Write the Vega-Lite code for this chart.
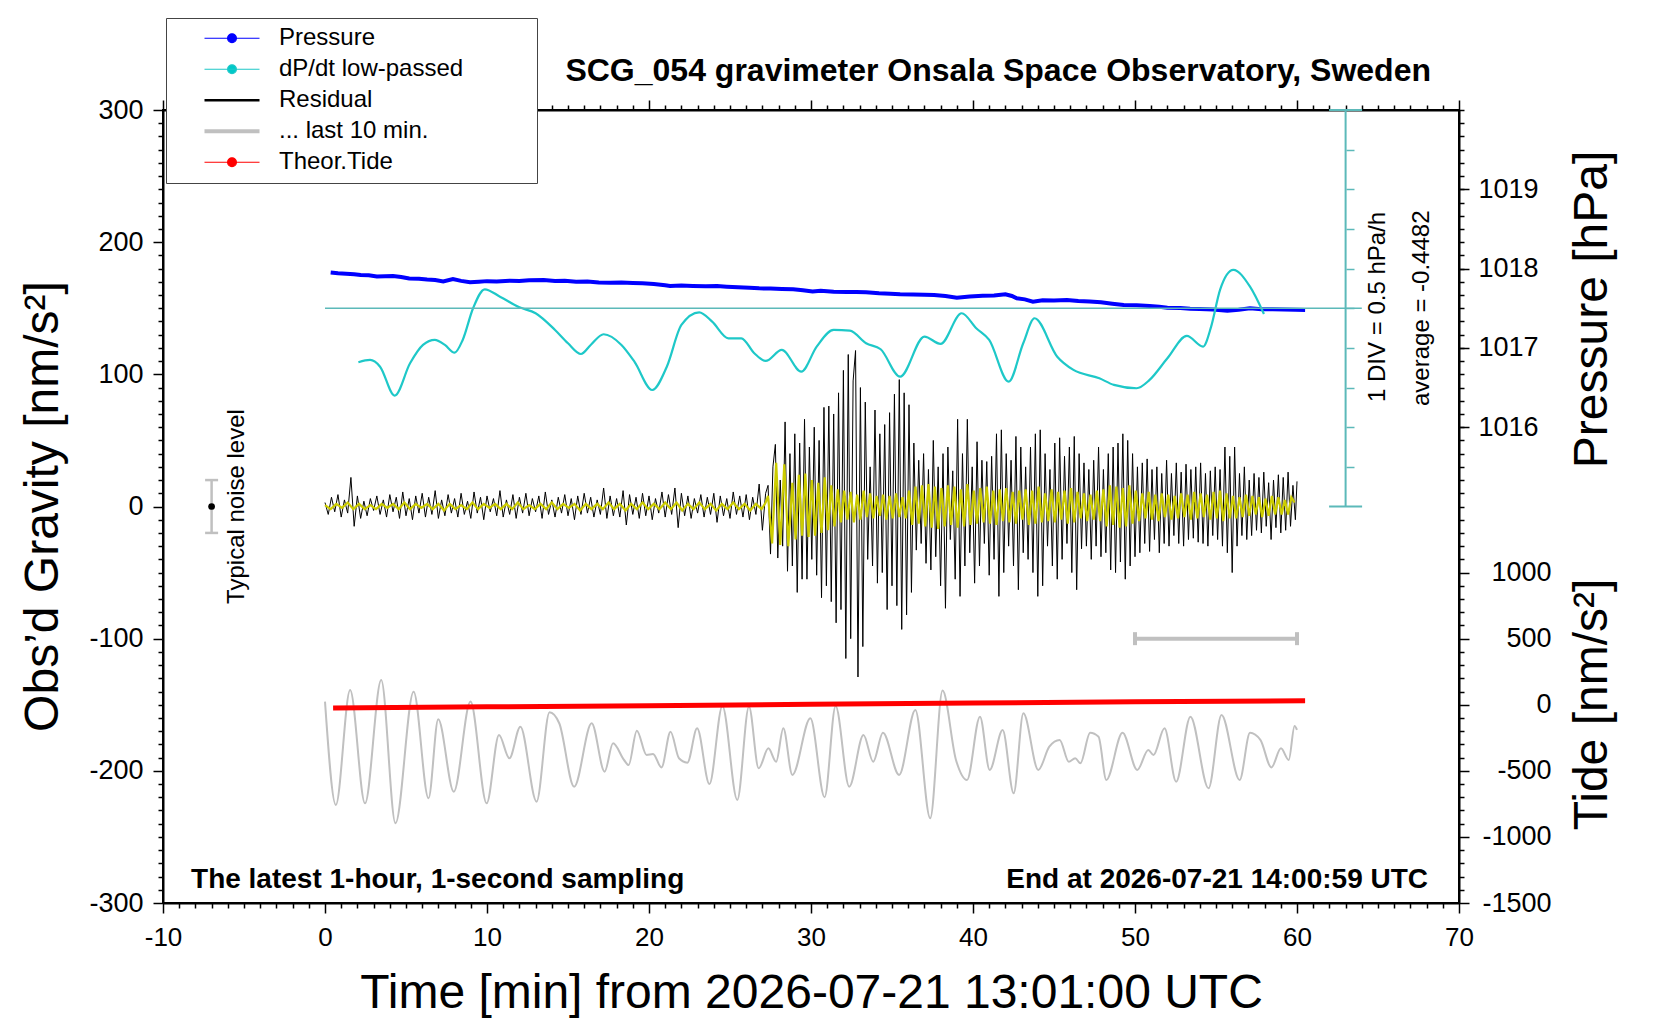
{
  "$schema": "https://vega.github.io/schema/vega-lite/v6.json",
  "width": 1296,
  "height": 793,
  "autosize": {"type": "none"},
  "padding": {"left": 163, "top": 110, "right": 201, "bottom": 117},
  "title": {
    "text": "SCG_054 gravimeter Onsala Space Observatory, Sweden",
    "anchor": "end",
    "frame": "group",
    "dx": -28,
    "offset": -95,
    "baseline": "alphabetic",
    "font": "Liberation Sans",
    "fontSize": 32,
    "fontWeight": "bold",
    "color": "black"
  },
  "config": {
    "font": "Liberation Sans",
    "view": {"stroke": "black", "strokeWidth": 2},
    "axis": {
      "grid": false,
      "domainColor": "black",
      "domainWidth": 2,
      "tickColor": "black",
      "tickWidth": 1.5,
      "labelColor": "black",
      "labelFont": "Liberation Sans",
      "labelFontSize": 27,
      "labelOverlap": false,
      "labelFlush": false,
      "labelBound": false,
      "titleColor": "black",
      "titleFont": "Liberation Sans",
      "titleFontSize": 48,
      "titleFontWeight": "normal"
    },
    "text": {"color": "black", "font": "Liberation Sans"}
  },
  "datasets": {
    "residual": [
      {"t":0.0,"g":3},{"t":0.2,"g":-6},{"t":0.4,"g":7},{"t":0.6,"g":-4},{"t":0.8,"g":9},{"t":1.0,"g":-8},{"t":1.2,"g":5},{"t":1.4,"g":-5},{"t":1.6,"g":22},{"t":1.8,"g":-15},
      {"t":2.0,"g":8},{"t":2.2,"g":-9},{"t":2.4,"g":4},{"t":2.6,"g":-7},{"t":2.8,"g":6},{"t":3.0,"g":-3},{"t":3.2,"g":8},{"t":3.4,"g":-6},{"t":3.6,"g":5},{"t":3.8,"g":-8},
      {"t":4.0,"g":9},{"t":4.2,"g":-4},{"t":4.4,"g":7},{"t":4.6,"g":-9},{"t":4.8,"g":11},{"t":5.0,"g":-7},{"t":5.2,"g":6},{"t":5.4,"g":-10},{"t":5.6,"g":8},{"t":5.8,"g":-5},
      {"t":6.0,"g":10},{"t":6.2,"g":-8},{"t":6.4,"g":7},{"t":6.6,"g":-6},{"t":6.8,"g":12},{"t":7.0,"g":-9},{"t":7.2,"g":5},{"t":7.4,"g":-7},{"t":7.6,"g":9},{"t":7.8,"g":-5},
      {"t":8.0,"g":6},{"t":8.2,"g":-8},{"t":8.4,"g":10},{"t":8.6,"g":-6},{"t":8.8,"g":4},{"t":9.0,"g":-9},{"t":9.2,"g":11},{"t":9.4,"g":-5},{"t":9.6,"g":7},{"t":9.8,"g":-10},
      {"t":10.0,"g":8},{"t":10.2,"g":-4},{"t":10.4,"g":6},{"t":10.6,"g":-7},{"t":10.8,"g":12},{"t":11.0,"g":-8},{"t":11.2,"g":5},{"t":11.4,"g":-6},{"t":11.6,"g":9},{"t":11.8,"g":-9},
      {"t":12.0,"g":7},{"t":12.2,"g":-5},{"t":12.4,"g":10},{"t":12.6,"g":-7},{"t":12.8,"g":6},{"t":13.0,"g":-4},{"t":13.2,"g":8},{"t":13.4,"g":-9},{"t":13.6,"g":11},{"t":13.8,"g":-6},
      {"t":14.0,"g":5},{"t":14.2,"g":-8},{"t":14.4,"g":7},{"t":14.6,"g":-5},{"t":14.8,"g":9},{"t":15.0,"g":-7},{"t":15.2,"g":6},{"t":15.4,"g":-10},{"t":15.6,"g":8},{"t":15.8,"g":-6},
      {"t":16.0,"g":10},{"t":16.2,"g":-5},{"t":16.4,"g":7},{"t":16.6,"g":-8},{"t":16.8,"g":5},{"t":17.0,"g":-6},{"t":17.2,"g":14},{"t":17.4,"g":-9},{"t":17.6,"g":8},{"t":17.8,"g":-7},
      {"t":18.0,"g":6},{"t":18.2,"g":-8},{"t":18.4,"g":12},{"t":18.6,"g":-14},{"t":18.8,"g":9},{"t":19.0,"g":-6},{"t":19.2,"g":7},{"t":19.4,"g":-9},{"t":19.6,"g":10},{"t":19.8,"g":-7},
      {"t":20.0,"g":8},{"t":20.2,"g":-10},{"t":20.4,"g":6},{"t":20.6,"g":-5},{"t":20.8,"g":11},{"t":21.0,"g":-8},{"t":21.2,"g":9},{"t":21.4,"g":-6},{"t":21.6,"g":14},{"t":21.8,"g":-16},
      {"t":22.0,"g":10},{"t":22.2,"g":-7},{"t":22.4,"g":8},{"t":22.6,"g":-9},{"t":22.8,"g":6},{"t":23.0,"g":-5},{"t":23.2,"g":9},{"t":23.4,"g":-8},{"t":23.6,"g":7},{"t":23.8,"g":-6},
      {"t":24.0,"g":10},{"t":24.2,"g":-12},{"t":24.4,"g":8},{"t":24.6,"g":-7},{"t":24.8,"g":6},{"t":25.0,"g":-9},{"t":25.2,"g":11},{"t":25.4,"g":-6},{"t":25.6,"g":8},{"t":25.8,"g":-8},
      {"t":26.0,"g":9},{"t":26.2,"g":-10},{"t":26.4,"g":7},{"t":26.6,"g":-6},{"t":26.8,"g":17},{"t":27.0,"g":-18},{"t":27.2,"g":10},
      {"t":27.35,"g":16},{"t":27.5,"g":-36},{"t":27.65,"g":30},{"t":27.8,"g":47},{"t":27.95,"g":-39},{"t":28.1,"g":20},{"t":28.25,"g":-30},{"t":28.4,"g":64},{"t":28.55,"g":-49},{"t":28.7,"g":40},
      {"t":28.85,"g":-45},{"t":29.0,"g":55},{"t":29.15,"g":-65},{"t":29.3,"g":48},{"t":29.45,"g":-55},{"t":29.6,"g":66},{"t":29.75,"g":-55},{"t":29.9,"g":45},{"t":30.05,"g":-40},{"t":30.2,"g":60},
      {"t":30.35,"g":-52},{"t":30.5,"g":50},{"t":30.65,"g":-69},{"t":30.8,"g":75},{"t":30.95,"g":-60},{"t":31.1,"g":76},{"t":31.25,"g":-72},{"t":31.4,"g":70},{"t":31.55,"g":-88},{"t":31.7,"g":86},
      {"t":31.85,"g":-78},{"t":32.0,"g":103},{"t":32.15,"g":-115},{"t":32.3,"g":115},{"t":32.45,"g":-100},{"t":32.6,"g":95},{"t":32.75,"g":118},{"t":32.9,"g":-129},{"t":33.05,"g":90},{"t":33.2,"g":-106},
      {"t":33.35,"g":79},{"t":33.5,"g":-40},{"t":33.65,"g":30},{"t":33.8,"g":-45},{"t":33.95,"g":73},{"t":34.1,"g":-58},{"t":34.25,"g":55},{"t":34.4,"g":-50},{"t":34.55,"g":62},{"t":34.7,"g":-78},
      {"t":34.85,"g":71},{"t":35.0,"g":-60},{"t":35.15,"g":85},{"t":35.3,"g":-75},{"t":35.45,"g":96},{"t":35.6,"g":-93},{"t":35.75,"g":86},{"t":35.9,"g":-82},{"t":36.05,"g":77},{"t":36.2,"g":-65},
      {"t":36.35,"g":48},{"t":36.5,"g":-33},{"t":36.65,"g":35},{"t":36.8,"g":-28},{"t":36.95,"g":40},{"t":37.1,"g":-43},{"t":37.25,"g":28},{"t":37.4,"g":-48},{"t":37.55,"g":50},{"t":37.7,"g":-38},
      {"t":37.85,"g":30},{"t":38.0,"g":-60},{"t":38.15,"g":40},{"t":38.3,"g":-77},{"t":38.45,"g":45},{"t":38.6,"g":-25},{"t":38.75,"g":27},{"t":38.9,"g":-55},{"t":39.05,"g":66},{"t":39.2,"g":-68},
      {"t":39.35,"g":40},{"t":39.5,"g":-45},{"t":39.65,"g":66},{"t":39.8,"g":-35},{"t":39.95,"g":30},{"t":40.1,"g":-58},{"t":40.25,"g":49},{"t":40.4,"g":-45},{"t":40.55,"g":35},{"t":40.7,"g":-28},
      {"t":40.85,"g":34},{"t":41.0,"g":-52},{"t":41.15,"g":38},{"t":41.3,"g":-40},{"t":41.45,"g":55},{"t":41.6,"g":-68},{"t":41.75,"g":58},{"t":41.9,"g":-50},{"t":42.05,"g":40},{"t":42.2,"g":-30},
      {"t":42.35,"g":35},{"t":42.5,"g":-45},{"t":42.65,"g":53},{"t":42.8,"g":-63},{"t":42.95,"g":45},{"t":43.1,"g":-35},{"t":43.25,"g":30},{"t":43.4,"g":-40},{"t":43.55,"g":45},{"t":43.7,"g":-50},
      {"t":43.85,"g":55},{"t":44.0,"g":-68},{"t":44.15,"g":58},{"t":44.3,"g":-60},{"t":44.45,"g":40},{"t":44.6,"g":-30},{"t":44.75,"g":28},{"t":44.9,"g":-45},{"t":45.05,"g":48},{"t":45.2,"g":-55},
      {"t":45.35,"g":52},{"t":45.5,"g":-40},{"t":45.65,"g":38},{"t":45.8,"g":-28},{"t":45.95,"g":45},{"t":46.1,"g":-50},{"t":46.25,"g":53},{"t":46.4,"g":-63},{"t":46.55,"g":40},{"t":46.7,"g":-32},
      {"t":46.85,"g":33},{"t":47.0,"g":-30},{"t":47.15,"g":28},{"t":47.3,"g":-40},{"t":47.45,"g":35},{"t":47.6,"g":-30},{"t":47.75,"g":45},{"t":47.9,"g":-38},{"t":48.05,"g":28},{"t":48.2,"g":-35},
      {"t":48.35,"g":40},{"t":48.5,"g":-48},{"t":48.65,"g":45},{"t":48.8,"g":-50},{"t":48.95,"g":48},{"t":49.1,"g":-42},{"t":49.25,"g":55},{"t":49.4,"g":-55},{"t":49.55,"g":50},{"t":49.7,"g":-45},
      {"t":49.85,"g":40},{"t":50.0,"g":-38},{"t":50.15,"g":30},{"t":50.3,"g":-35},{"t":50.45,"g":33},{"t":50.6,"g":-28},{"t":50.75,"g":36},{"t":50.9,"g":-34},{"t":51.05,"g":28},{"t":51.2,"g":-25},
      {"t":51.35,"g":30},{"t":51.5,"g":-35},{"t":51.65,"g":25},{"t":51.8,"g":-28},{"t":51.95,"g":35},{"t":52.1,"g":-30},{"t":52.25,"g":25},{"t":52.4,"g":-22},{"t":52.55,"g":33},{"t":52.7,"g":-28},
      {"t":52.85,"g":26},{"t":53.0,"g":-30},{"t":53.15,"g":32},{"t":53.3,"g":-25},{"t":53.45,"g":28},{"t":53.6,"g":-24},{"t":53.75,"g":30},{"t":53.9,"g":-27},{"t":54.05,"g":33},{"t":54.2,"g":-28},
      {"t":54.35,"g":25},{"t":54.5,"g":-30},{"t":54.65,"g":27},{"t":54.8,"g":-22},{"t":54.95,"g":30},{"t":55.1,"g":-25},{"t":55.25,"g":28},{"t":55.4,"g":-30},{"t":55.55,"g":45},{"t":55.7,"g":-35},
      {"t":55.85,"g":38},{"t":56.0,"g":-50},{"t":56.15,"g":45},{"t":56.3,"g":-30},{"t":56.45,"g":25},{"t":56.6,"g":-22},{"t":56.75,"g":30},{"t":56.9,"g":-25},{"t":57.05,"g":20},{"t":57.2,"g":-22},
      {"t":57.35,"g":25},{"t":57.5,"g":-18},{"t":57.65,"g":22},{"t":57.8,"g":-20},{"t":57.95,"g":26},{"t":58.1,"g":-15},{"t":58.25,"g":18},{"t":58.4,"g":-25},{"t":58.55,"g":20},{"t":58.7,"g":-16},
      {"t":58.85,"g":24},{"t":59.0,"g":-20},{"t":59.15,"g":22},{"t":59.3,"g":-18},{"t":59.45,"g":26},{"t":59.6,"g":-15},{"t":59.75,"g":16},{"t":59.9,"g":-10},{"t":60.0,"g":19}
    ],
    "filtered": [
      {"t":0,"g":1},{"t":0.35,"g":-2},{"t":0.7,"g":2},{"t":1.05,"g":-1},{"t":1.4,"g":3},{"t":1.75,"g":-2},{"t":2.1,"g":2},{"t":2.45,"g":-2},{"t":2.8,"g":1},{"t":3.15,"g":-2},
      {"t":3.5,"g":2},{"t":3.85,"g":-1},{"t":4.2,"g":2},{"t":4.55,"g":-2},{"t":4.9,"g":3},{"t":5.25,"g":-2},{"t":5.6,"g":2},{"t":5.95,"g":-1},{"t":6.3,"g":2},{"t":6.65,"g":-2},
      {"t":7.0,"g":2},{"t":7.35,"g":-3},{"t":7.7,"g":2},{"t":8.05,"g":-2},{"t":8.4,"g":1},{"t":8.75,"g":-2},{"t":9.1,"g":3},{"t":9.45,"g":-2},{"t":9.8,"g":2},{"t":10.15,"g":-1},
      {"t":10.5,"g":2},{"t":10.85,"g":-2},{"t":11.2,"g":2},{"t":11.55,"g":-2},{"t":11.9,"g":3},{"t":12.25,"g":-2},{"t":12.6,"g":1},{"t":12.95,"g":-2},{"t":13.3,"g":2},{"t":13.65,"g":-2},
      {"t":14.0,"g":3},{"t":14.35,"g":-2},{"t":14.7,"g":2},{"t":15.05,"g":-1},{"t":15.4,"g":2},{"t":15.75,"g":-3},{"t":16.1,"g":2},{"t":16.45,"g":-2},{"t":16.8,"g":2},{"t":17.15,"g":-2},
      {"t":17.5,"g":3},{"t":17.85,"g":-2},{"t":18.2,"g":2},{"t":18.55,"g":-3},{"t":18.9,"g":2},{"t":19.25,"g":-2},{"t":19.6,"g":3},{"t":19.95,"g":-2},{"t":20.3,"g":2},{"t":20.65,"g":-2},
      {"t":21.0,"g":3},{"t":21.35,"g":-2},{"t":21.7,"g":3},{"t":22.05,"g":-3},{"t":22.4,"g":2},{"t":22.75,"g":-2},{"t":23.1,"g":3},{"t":23.45,"g":-2},{"t":23.8,"g":2},{"t":24.15,"g":-3},
      {"t":24.5,"g":2},{"t":24.85,"g":-2},{"t":25.2,"g":3},{"t":25.55,"g":-2},{"t":25.9,"g":2},{"t":26.25,"g":-3},{"t":26.6,"g":2},{"t":26.95,"g":-2},{"t":27.2,"g":3},
      {"t":27.35,"g":8},{"t":27.6,"g":-28},{"t":27.85,"g":33},{"t":28.1,"g":-29},{"t":28.35,"g":32},{"t":28.6,"g":-30},{"t":28.85,"g":18},{"t":29.05,"g":-25},{"t":29.25,"g":24},{"t":29.45,"g":-22},
      {"t":29.65,"g":25},{"t":29.85,"g":-23},{"t":30.05,"g":20},{"t":30.25,"g":-22},{"t":30.45,"g":18},{"t":30.65,"g":-20},{"t":30.85,"g":22},{"t":31.05,"g":-18},{"t":31.25,"g":16},{"t":31.45,"g":-15},
      {"t":31.65,"g":13},{"t":31.85,"g":-12},{"t":32.05,"g":12},{"t":32.25,"g":-10},{"t":32.45,"g":11},{"t":32.65,"g":-12},{"t":32.85,"g":9},{"t":33.05,"g":-10},{"t":33.25,"g":12},{"t":33.45,"g":-8},
      {"t":33.65,"g":10},{"t":33.85,"g":-9},{"t":34.05,"g":8},{"t":34.25,"g":-7},{"t":34.45,"g":9},{"t":34.65,"g":-10},{"t":34.85,"g":8},{"t":35.05,"g":-9},{"t":35.25,"g":10},{"t":35.45,"g":-8},
      {"t":35.65,"g":7},{"t":35.85,"g":-9},{"t":36.05,"g":12},{"t":36.25,"g":-14},{"t":36.45,"g":15},{"t":36.65,"g":-13},{"t":36.85,"g":16},{"t":37.05,"g":-15},{"t":37.25,"g":17},{"t":37.45,"g":-16},
      {"t":37.65,"g":15},{"t":37.85,"g":-17},{"t":38.05,"g":14},{"t":38.25,"g":-15},{"t":38.45,"g":16},{"t":38.65,"g":-14},{"t":38.85,"g":15},{"t":39.05,"g":-16},{"t":39.25,"g":13},{"t":39.45,"g":-15},
      {"t":39.65,"g":17},{"t":39.85,"g":-14},{"t":40.05,"g":12},{"t":40.25,"g":-13},{"t":40.45,"g":14},{"t":40.65,"g":-12},{"t":40.85,"g":15},{"t":41.05,"g":-13},{"t":41.25,"g":12},{"t":41.45,"g":-14},
      {"t":41.65,"g":13},{"t":41.85,"g":-11},{"t":42.05,"g":14},{"t":42.25,"g":-12},{"t":42.45,"g":11},{"t":42.65,"g":-13},{"t":42.85,"g":12},{"t":43.05,"g":-10},{"t":43.25,"g":13},{"t":43.45,"g":-14},
      {"t":43.65,"g":12},{"t":43.85,"g":-13},{"t":44.05,"g":15},{"t":44.25,"g":-12},{"t":44.45,"g":10},{"t":44.65,"g":-11},{"t":44.85,"g":13},{"t":45.05,"g":-12},{"t":45.25,"g":11},{"t":45.45,"g":-10},
      {"t":45.65,"g":12},{"t":45.85,"g":-13},{"t":46.05,"g":14},{"t":46.25,"g":-12},{"t":46.45,"g":11},{"t":46.65,"g":-9},{"t":46.85,"g":10},{"t":47.05,"g":-11},{"t":47.25,"g":9},{"t":47.45,"g":-10},
      {"t":47.65,"g":12},{"t":47.85,"g":-11},{"t":48.05,"g":13},{"t":48.25,"g":-15},{"t":48.45,"g":16},{"t":48.65,"g":-14},{"t":48.85,"g":15},{"t":49.05,"g":-16},{"t":49.25,"g":14},{"t":49.45,"g":-15},
      {"t":49.65,"g":16},{"t":49.85,"g":-13},{"t":50.05,"g":12},{"t":50.25,"g":-11},{"t":50.45,"g":10},{"t":50.65,"g":-9},{"t":50.85,"g":11},{"t":51.05,"g":-10},{"t":51.25,"g":9},{"t":51.45,"g":-11},
      {"t":51.65,"g":10},{"t":51.85,"g":-8},{"t":52.05,"g":9},{"t":52.25,"g":-10},{"t":52.45,"g":8},{"t":52.65,"g":-9},{"t":52.85,"g":10},{"t":53.05,"g":-8},{"t":53.25,"g":9},{"t":53.45,"g":-10},
      {"t":53.65,"g":11},{"t":53.85,"g":-9},{"t":54.05,"g":10},{"t":54.25,"g":-8},{"t":54.45,"g":9},{"t":54.65,"g":-10},{"t":54.85,"g":11},{"t":55.05,"g":-9},{"t":55.25,"g":12},{"t":55.45,"g":-11},
      {"t":55.65,"g":10},{"t":55.85,"g":-9},{"t":56.05,"g":8},{"t":56.25,"g":-9},{"t":56.45,"g":7},{"t":56.65,"g":-8},{"t":56.85,"g":9},{"t":57.05,"g":-7},{"t":57.25,"g":8},{"t":57.45,"g":-6},
      {"t":57.65,"g":7},{"t":57.85,"g":-8},{"t":58.05,"g":6},{"t":58.25,"g":-7},{"t":58.45,"g":8},{"t":58.65,"g":-6},{"t":58.85,"g":7},{"t":59.05,"g":-6},{"t":59.25,"g":5},{"t":59.45,"g":-6},
      {"t":59.65,"g":7},{"t":59.85,"g":3}
    ],
    "last10": [
      {"t":0.0,"g":-147.6},{"t":0.67,"g":-225.8},{"t":1.55,"g":-138.8},{"t":2.47,"g":-224.6},{"t":3.47,"g":-131.3},{"t":4.35,"g":-239.7},{"t":5.47,"g":-140.1},{"t":6.39,"g":-220.8},{"t":6.99,"g":-161},{"t":7.95,"g":-215.8},
      {"t":8.98,"g":-147.6},{"t":9.98,"g":-224.6},{"t":10.74,"g":-172.9},{"t":11.38,"g":-190.5},{"t":12.06,"g":-166.6},{"t":13.06,"g":-223.3},{"t":13.86,"g":-155.7},{"t":14.46,"g":-164},{"t":15.38,"g":-212},{"t":16.46,"g":-164},
      {"t":17.26,"g":-200.6},{"t":17.78,"g":-179.2},{"t":18.46,"g":-191.8},{"t":18.74,"g":-195.6},{"t":19.25,"g":-169.6},{"t":19.85,"g":-188},{"t":20.25,"g":-187.3},{"t":20.77,"g":-197.4},{"t":21.33,"g":-170.4},{"t":21.85,"g":-190.5},
      {"t":22.37,"g":-193.8},{"t":22.97,"g":-167.8},{"t":23.73,"g":-210},{"t":24.53,"g":-150.9},{"t":25.45,"g":-222},{"t":26.17,"g":-151.4},{"t":26.77,"g":-198.1},{"t":27.37,"g":-183},{"t":27.85,"g":-193.1},{"t":28.29,"g":-167.8},
      {"t":28.85,"g":-203.1},{"t":29.96,"g":-160.2},{"t":30.84,"g":-220},{"t":31.52,"g":-150.9},{"t":32.36,"g":-212},{"t":33.24,"g":-172.9},{"t":33.84,"g":-193.1},{"t":34.44,"g":-171.2},{"t":35.44,"g":-203.1},{"t":36.44,"g":-153.9},
      {"t":37.36,"g":-235.9},{"t":38.12,"g":-139.3},{"t":38.95,"g":-191.8},{"t":39.63,"g":-206.9},{"t":40.43,"g":-159},{"t":41.03,"g":-199.3},{"t":41.83,"g":-169.1},{"t":42.51,"g":-217},{"t":43.11,"g":-156.5},{"t":44.03,"g":-199.3},
      {"t":44.71,"g":-181.7},{"t":45.35,"g":-176.6},{"t":45.91,"g":-193.1},{"t":46.31,"g":-190.5},{"t":46.63,"g":-194.3},{"t":47.23,"g":-171.2},{"t":47.75,"g":-174.2},{"t":48.23,"g":-206.9},{"t":49.23,"g":-171.2},{"t":50.14,"g":-199.3},
      {"t":50.82,"g":-184.2},{"t":51.14,"g":-188},{"t":51.82,"g":-167.8},{"t":52.54,"g":-208.2},{"t":53.42,"g":-159},{"t":54.54,"g":-213.2},{"t":55.34,"g":-157.7},{"t":56.46,"g":-206.9},{"t":57.1,"g":-171.2},{"t":57.74,"g":-176.6},
      {"t":58.42,"g":-197.4},{"t":59.01,"g":-183},{"t":59.49,"g":-191.8},{"t":59.85,"g":-166},{"t":60.0,"g":-169}
    ],
    "pressure": [
      {"t":0.35,"p":1017.95},{"t":0.8,"p":1017.94},{"t":1.3,"p":1017.935},{"t":1.8,"p":1017.93},{"t":2.2,"p":1017.92},{"t":2.7,"p":1017.915},{"t":3.2,"p":1017.9},{"t":3.7,"p":1017.905},{"t":4.2,"p":1017.908},{"t":4.7,"p":1017.895},
      {"t":5.2,"p":1017.875},{"t":5.8,"p":1017.872},{"t":6.3,"p":1017.862},{"t":6.8,"p":1017.855},{"t":7.3,"p":1017.838},{"t":7.9,"p":1017.868},{"t":8.4,"p":1017.845},{"t":8.95,"p":1017.827},{"t":9.5,"p":1017.835},{"t":10.0,"p":1017.842},
      {"t":10.6,"p":1017.838},{"t":11.4,"p":1017.848},{"t":12.0,"p":1017.845},{"t":12.6,"p":1017.852},{"t":13.5,"p":1017.856},{"t":14.2,"p":1017.845},{"t":14.8,"p":1017.846},{"t":15.5,"p":1017.835},{"t":16.2,"p":1017.838},{"t":16.9,"p":1017.826},
      {"t":17.6,"p":1017.822},{"t":18.3,"p":1017.824},{"t":19.0,"p":1017.818},{"t":19.6,"p":1017.815},{"t":20.3,"p":1017.806},{"t":21.0,"p":1017.79},{"t":21.3,"p":1017.78},{"t":22.0,"p":1017.788},{"t":22.7,"p":1017.781},{"t":23.5,"p":1017.776},
      {"t":24.2,"p":1017.779},{"t":24.8,"p":1017.772},{"t":25.5,"p":1017.765},{"t":26.2,"p":1017.76},{"t":26.8,"p":1017.751},{"t":27.5,"p":1017.748},{"t":28.2,"p":1017.742},{"t":28.9,"p":1017.739},{"t":29.5,"p":1017.728},{"t":30.1,"p":1017.712},
      {"t":30.6,"p":1017.722},{"t":31.4,"p":1017.709},{"t":32.2,"p":1017.705},{"t":32.8,"p":1017.706},{"t":33.4,"p":1017.701},{"t":34.2,"p":1017.69},{"t":34.9,"p":1017.684},{"t":35.5,"p":1017.676},{"t":36.3,"p":1017.674},{"t":37.0,"p":1017.67},
      {"t":37.6,"p":1017.667},{"t":38.3,"p":1017.655},{"t":39.0,"p":1017.633},{"t":39.8,"p":1017.648},{"t":40.6,"p":1017.658},{"t":41.3,"p":1017.662},{"t":42.0,"p":1017.676},{"t":42.4,"p":1017.655},{"t":42.7,"p":1017.625},{"t":43.2,"p":1017.612},
      {"t":43.7,"p":1017.583},{"t":44.3,"p":1017.6},{"t":45.0,"p":1017.598},{"t":45.8,"p":1017.604},{"t":46.5,"p":1017.59},{"t":47.2,"p":1017.585},{"t":47.9,"p":1017.575},{"t":48.6,"p":1017.557},{"t":49.3,"p":1017.541},{"t":50.1,"p":1017.537},
      {"t":50.9,"p":1017.528},{"t":51.5,"p":1017.52},{"t":52.0,"p":1017.507},{"t":52.8,"p":1017.502},{"t":53.4,"p":1017.495},{"t":54.0,"p":1017.491},{"t":54.8,"p":1017.483},{"t":55.7,"p":1017.469},{"t":56.4,"p":1017.48},{"t":57.1,"p":1017.5},
      {"t":57.8,"p":1017.488},{"t":58.5,"p":1017.487},{"t":59.2,"p":1017.483},{"t":59.9,"p":1017.48},{"t":60.5,"p":1017.478}
    ],
    "dpdt": [
      {"t":2.06,"d":-1.129},{"t":2.78,"d":-1.1},{"t":3.4,"d":-1.185},{"t":4.3,"d":-1.55},{"t":5.25,"d":-1.142},{"t":6.05,"d":-0.911},{"t":6.78,"d":-0.848},{"t":7.4,"d":-0.911},{"t":8.0,"d":-1.008},{"t":8.5,"d":-0.848},
      {"t":9.14,"d":-0.448},{"t":9.86,"d":-0.209},{"t":10.8,"d":-0.302},{"t":12.0,"d":-0.436},{"t":13.0,"d":-0.511},{"t":14.2,"d":-0.722},{"t":15.0,"d":-0.89},{"t":15.8,"d":-1.025},{"t":16.4,"d":-0.911},{"t":17.2,"d":-0.776},
      {"t":18.3,"d":-0.911},{"t":19.1,"d":-1.122},{"t":20.2,"d":-1.479},{"t":21.1,"d":-1.185},{"t":22.0,"d":-0.659},{"t":23.1,"d":-0.499},{"t":23.9,"d":-0.617},{"t":24.9,"d":-0.827},{"t":25.7,"d":-0.827},{"t":26.5,"d":-1.016},
      {"t":27.2,"d":-1.113},{"t":28.2,"d":-0.974},{"t":29.4,"d":-1.248},{"t":30.35,"d":-0.932},{"t":31.4,"d":-0.722},{"t":32.4,"d":-0.73},{"t":33.4,"d":-0.89},{"t":34.3,"d":-0.965},{"t":35.5,"d":-1.311},{"t":37.0,"d":-0.806},
      {"t":38.0,"d":-0.898},{"t":39.3,"d":-0.511},{"t":40.2,"d":-0.7},{"t":41.0,"d":-0.848},{"t":42.2,"d":-1.374},{"t":43.1,"d":-0.89},{"t":43.8,"d":-0.574},{"t":45.2,"d":-1.059},{"t":46.2,"d":-1.226},{"t":47.8,"d":-1.331},
      {"t":48.7,"d":-1.415},{"t":50.1,"d":-1.457},{"t":50.9,"d":-1.352},{"t":52.0,"d":-1.079},{"t":53.2,"d":-0.797},{"t":54.2,"d":-0.932},{"t":54.7,"d":-0.68},{"t":55.25,"d":-0.217},{"t":56.07,"d":0.035},{"t":57.1,"d":-0.176},
      {"t":57.96,"d":-0.52}
    ],
    "tide": [
      {"t":0.5,"tide":-25},{"t":10,"tide":-16},{"t":20,"tide":-7},{"t":30,"tide":3},{"t":40,"tide":13},{"t":50,"tide":22},{"t":60.5,"tide":31}
    ],
    "ruler": [
      {"t0":0,"t1":64,"tr":63,"avg":-0.4482,"lo":-2.9482,"hi":2.0518}
    ],
    "rulerEnds": [
      {"tr":63,"v":-2.9482},{"tr":63,"v":2.0518}
    ],
    "noise": [
      {"t":-7,"g":0,"lo":-20,"hi":20}
    ],
    "window": [
      {"t0":50,"t1":60,"g":-100}
    ]
  },
  "resolve": {
    "scale": {"y": "independent"},
    "axis": {"x": "independent", "y": "independent"}
  },
  "layer": [
    {
      "data": {"name": "last10"},
      "mark": {"type": "line", "strokeWidth": 2, "interpolate": "monotone"},
      "encoding": {
        "x": {"field": "t", "type": "quantitative", "scale": {"domain": [-10, 70], "nice": false, "zero": false}, "axis": null},
        "y": {"field": "g", "type": "quantitative", "scale": {"domain": [-300, 300], "nice": false, "zero": false}, "axis": null},
        "color": {
          "datum": "... last 10 min.",
          "type": "nominal",
          "scale": {
            "domain": ["Pressure", "dP/dt low-passed", "Residual", "... last 10 min.", "Theor.Tide"],
            "range": ["#0000ff", "#1ec8c8", "#000000", "#c0c0c0", "#ff0000"]
          },
          "legend": {
            "orient": "none",
            "legendX": 3,
            "legendY": -92,
            "zindex": 1,
            "title": "MMMM",
            "titleOrient": "right",
            "titleFontSize": 19,
            "titleOpacity": 0,
            "titlePadding": 5,
            "padding": 5,
            "rowPadding": 0,
            "clipHeight": 30.5,
            "symbolType": "stroke",
            "symbolSize": 3025,
            "symbolOffset": 49,
            "labelOffset": 35,
            "labelFont": "Liberation Sans",
            "labelFontSize": 24,
            "labelColor": "black",
            "labelLimit": 0,
            "strokeColor": "#444444",
            "fillColor": "white",
            "encode": {
              "symbols": {
                "update": {
                  "shape": {"signal": "datum.value === 'Residual' || datum.value === '... last 10 min.' ? 'stroke' : 'M-1,0H1M-0.16,0A0.16,0.16,0,1,0,0.16,0A0.16,0.16,0,1,0,-0.16,0'"},
                  "fill": {"signal": "datum.value === 'Pressure' ? '#0000ff' : datum.value === 'Theor.Tide' ? '#ff0000' : datum.value === 'dP/dt low-passed' ? '#00c8c8' : 'transparent'"},
                  "stroke": {"signal": "datum.value === 'Pressure' ? '#6a6aff' : datum.value === 'Theor.Tide' ? '#ff6a6a' : datum.value === 'dP/dt low-passed' ? '#66dede' : datum.value === 'Residual' ? '#000000' : '#c0c0c0'"},
                  "strokeWidth": {"signal": "datum.value === 'Residual' ? 2.5 : datum.value === '... last 10 min.' ? 4 : 1.2"},
                  "opacity": {"value": 1}
                }
              }
            }
          }
        }
      }
    },
    {
      "data": {"name": "residual"},
      "mark": {"type": "line", "strokeWidth": 1},
      "encoding": {
        "x": {
          "field": "t", "type": "quantitative",
          "scale": {"domain": [-10, 70], "nice": false, "zero": false},
          "axis": {
            "orient": "bottom",
            "values": [-10,-9,-8,-7,-6,-5,-4,-3,-2,-1,0,1,2,3,4,5,6,7,8,9,10,11,12,13,14,15,16,17,18,19,20,21,22,23,24,25,26,27,28,29,30,31,32,33,34,35,36,37,38,39,40,41,42,43,44,45,46,47,48,49,50,51,52,53,54,55,56,57,58,59,60,61,62,63,64,65,66,67,68,69,70],
            "labelExpr": "datum.value % 10 === 0 ? '' + datum.value : ''",
            "tickSize": {"condition": {"test": "datum.value % 10 === 0", "value": 10}, "value": 5},
            "labelFontSize": 26,
            "labelPadding": 11,
            "title": "Time [min] from 2026-07-21 13:01:00 UTC",
            "titleX": 648,
            "titleY": 104,
            "titleAlign": "center",
            "titleBaseline": "alphabetic"
          }
        },
        "y": {
          "field": "g", "type": "quantitative",
          "scale": {"domain": [-300, 300], "nice": false, "zero": false},
          "axis": {
            "orient": "left",
            "values": [-300,-290,-280,-270,-260,-250,-240,-230,-220,-210,-200,-190,-180,-170,-160,-150,-140,-130,-120,-110,-100,-90,-80,-70,-60,-50,-40,-30,-20,-10,0,10,20,30,40,50,60,70,80,90,100,110,120,130,140,150,160,170,180,190,200,210,220,230,240,250,260,270,280,290,300],
            "labelExpr": "datum.value % 100 === 0 ? '' + datum.value : ''",
            "tickSize": {"condition": {"test": "datum.value % 100 === 0", "value": 10}, "value": 5},
            "labelPadding": 10,
            "title": "Obs’d Gravity [nm/s²]",
            "titleAngle": 270,
            "titleX": -120,
            "titleY": 396,
            "titleAlign": "center",
            "titleBaseline": "middle"
          }
        },
        "color": {"datum": "Residual", "type": "nominal"}
      }
    },
    {
      "data": {"name": "filtered"},
      "mark": {"type": "line", "strokeWidth": 2.2, "color": "#cccc00"},
      "encoding": {
        "x": {
          "field": "t", "type": "quantitative",
          "scale": {"domain": [-10, 70], "nice": false, "zero": false},
          "axis": {
            "orient": "top",
            "values": [-10,-9,-8,-7,-6,-5,-4,-3,-2,-1,0,1,2,3,4,5,6,7,8,9,10,11,12,13,14,15,16,17,18,19,20,21,22,23,24,25,26,27,28,29,30,31,32,33,34,35,36,37,38,39,40,41,42,43,44,45,46,47,48,49,50,51,52,53,54,55,56,57,58,59,60,61,62,63,64,65,66,67,68,69,70],
            "labels": false,
            "tickSize": {"condition": {"test": "datum.value % 10 === 0", "value": 10}, "value": 5},
            "title": null
          }
        },
        "y": {"field": "g", "type": "quantitative", "scale": {"domain": [-300, 300], "nice": false, "zero": false}, "axis": null}
      }
    },
    {
      "data": {"name": "tide"},
      "mark": {"type": "line", "strokeWidth": 5},
      "encoding": {
        "x": {"field": "t", "type": "quantitative", "scale": {"domain": [-10, 70], "nice": false, "zero": false}, "axis": null},
        "y": {
          "field": "tide", "type": "quantitative",
          "scale": {"domain": [-1500, 4500], "nice": false, "zero": false},
          "axis": {
            "orient": "right",
            "values": [-1500,-1400,-1300,-1200,-1100,-1000,-900,-800,-700,-600,-500,-400,-300,-200,-100,0,100,200,300,400,500,600,700,800,900,1000,1100,1200,1300,1400,1500,1600,1700,1800,1900,2000,2100,2200,2300,2400,2500,2600,2700,2800,2900,3000,3100,3200,3300,3400,3500,3600,3700,3800,3900,4000,4100,4200,4300,4400,4500],
            "labelExpr": "datum.value % 500 === 0 && datum.value <= 1000 ? '' + datum.value : ''",
            "tickSize": {"condition": {"test": "datum.value % 500 === 0 && datum.value <= 1000", "value": 10}, "value": 5},
            "labelAlign": "right",
            "labelPadding": 82,
            "title": "Tide [nm/s²]",
            "titleAngle": 270,
            "titleX": 133,
            "titleY": 594,
            "titleAlign": "center",
            "titleBaseline": "middle"
          }
        },
        "color": {"datum": "Theor.Tide", "type": "nominal"}
      }
    },
    {
      "data": {"name": "pressure"},
      "mark": {"type": "line", "strokeWidth": 4},
      "encoding": {
        "x": {"field": "t", "type": "quantitative", "scale": {"domain": [-10, 70], "nice": false, "zero": false}, "axis": null},
        "y": {
          "field": "p", "type": "quantitative",
          "scale": {"domain": [1010, 1020], "nice": false, "zero": false},
          "axis": {
            "orient": "right",
            "values": [1016, 1017, 1018, 1019],
            "labelExpr": "'' + datum.value",
            "tickSize": 10,
            "labelPadding": 9,
            "domain": false,
            "title": "Pressure [hPa]",
            "titleAngle": 270,
            "titleX": 133,
            "titleY": 199,
            "titleAlign": "center",
            "titleBaseline": "middle"
          }
        },
        "color": {"datum": "Pressure", "type": "nominal"}
      }
    },
    {
      "data": {"name": "dpdt"},
      "mark": {"type": "line", "strokeWidth": 2.2, "interpolate": "monotone"},
      "encoding": {
        "x": {"field": "t", "type": "quantitative", "scale": {"domain": [-10, 70], "nice": false, "zero": false}, "axis": null},
        "y": {
          "field": "d", "type": "quantitative",
          "scale": {"domain": [-7.9482, 2.0518], "nice": false, "zero": false},
          "axis": {
            "orient": "right",
            "offset": -113,
            "values": [-2.4482, -1.9482, -1.4482, -0.9482, -0.4482, 0.0518, 0.5518, 1.0518, 1.5518],
            "labels": false,
            "domain": false,
            "tickSize": 8,
            "tickWidth": 1.5,
            "tickColor": "#5cb9b9",
            "title": null
          }
        },
        "color": {"datum": "dP/dt low-passed", "type": "nominal"}
      }
    },
    {
      "data": {"name": "ruler"},
      "mark": {"type": "rule", "strokeWidth": 1.5, "color": "#5cb9b9"},
      "encoding": {
        "x": {"field": "t0", "type": "quantitative", "scale": {"domain": [-10, 70], "nice": false, "zero": false}, "axis": null},
        "x2": {"field": "t1"},
        "y": {"field": "avg", "type": "quantitative", "scale": {"domain": [-7.9482, 2.0518], "nice": false, "zero": false}, "axis": null}
      }
    },
    {
      "data": {"name": "ruler"},
      "mark": {"type": "rule", "strokeWidth": 2, "color": "#5cb9b9"},
      "encoding": {
        "x": {"field": "tr", "type": "quantitative", "scale": {"domain": [-10, 70], "nice": false, "zero": false}, "axis": null},
        "y": {"field": "lo", "type": "quantitative", "scale": {"domain": [-7.9482, 2.0518], "nice": false, "zero": false}, "axis": null},
        "y2": {"field": "hi"}
      }
    },
    {
      "data": {"name": "rulerEnds"},
      "mark": {"type": "tick", "orient": "horizontal", "size": 33, "thickness": 2, "color": "#5cb9b9", "opacity": 1},
      "encoding": {
        "x": {"field": "tr", "type": "quantitative", "scale": {"domain": [-10, 70], "nice": false, "zero": false}, "axis": null},
        "y": {"field": "v", "type": "quantitative", "scale": {"domain": [-7.9482, 2.0518], "nice": false, "zero": false}, "axis": null}
      }
    },
    {
      "data": {"name": "noise"},
      "mark": {"type": "rule", "strokeWidth": 2.5, "color": "#c0c0c0"},
      "encoding": {
        "x": {"field": "t", "type": "quantitative", "scale": {"domain": [-10, 70], "nice": false, "zero": false}, "axis": null},
        "y": {"field": "lo", "type": "quantitative", "scale": {"domain": [-300, 300], "nice": false, "zero": false}, "axis": null},
        "y2": {"field": "hi"}
      }
    },
    {
      "data": {"name": "noise"},
      "mark": {"type": "tick", "orient": "horizontal", "size": 13, "thickness": 2.5, "color": "#c0c0c0", "opacity": 1},
      "encoding": {
        "x": {"field": "t", "type": "quantitative", "scale": {"domain": [-10, 70], "nice": false, "zero": false}, "axis": null},
        "y": {"field": "lo", "type": "quantitative", "scale": {"domain": [-300, 300], "nice": false, "zero": false}, "axis": null}
      }
    },
    {
      "data": {"name": "noise"},
      "mark": {"type": "tick", "orient": "horizontal", "size": 13, "thickness": 2.5, "color": "#c0c0c0", "opacity": 1},
      "encoding": {
        "x": {"field": "t", "type": "quantitative", "scale": {"domain": [-10, 70], "nice": false, "zero": false}, "axis": null},
        "y": {"field": "hi", "type": "quantitative", "scale": {"domain": [-300, 300], "nice": false, "zero": false}, "axis": null}
      }
    },
    {
      "data": {"name": "noise"},
      "mark": {"type": "point", "filled": true, "size": 45, "color": "black", "opacity": 1},
      "encoding": {
        "x": {"field": "t", "type": "quantitative", "scale": {"domain": [-10, 70], "nice": false, "zero": false}, "axis": null},
        "y": {"field": "g", "type": "quantitative", "scale": {"domain": [-300, 300], "nice": false, "zero": false}, "axis": null}
      }
    },
    {
      "data": {"name": "window"},
      "mark": {"type": "rule", "strokeWidth": 4, "color": "#c0c0c0"},
      "encoding": {
        "x": {"field": "t0", "type": "quantitative", "scale": {"domain": [-10, 70], "nice": false, "zero": false}, "axis": null},
        "x2": {"field": "t1"},
        "y": {"field": "g", "type": "quantitative", "scale": {"domain": [-300, 300], "nice": false, "zero": false}, "axis": null}
      }
    },
    {
      "data": {"name": "window"},
      "mark": {"type": "tick", "orient": "vertical", "size": 13, "thickness": 4, "color": "#c0c0c0", "opacity": 1},
      "encoding": {
        "x": {"field": "t0", "type": "quantitative", "scale": {"domain": [-10, 70], "nice": false, "zero": false}, "axis": null},
        "y": {"field": "g", "type": "quantitative", "scale": {"domain": [-300, 300], "nice": false, "zero": false}, "axis": null}
      }
    },
    {
      "data": {"name": "window"},
      "mark": {"type": "tick", "orient": "vertical", "size": 13, "thickness": 4, "color": "#c0c0c0", "opacity": 1},
      "encoding": {
        "x": {"field": "t1", "type": "quantitative", "scale": {"domain": [-10, 70], "nice": false, "zero": false}, "axis": null},
        "y": {"field": "g", "type": "quantitative", "scale": {"domain": [-300, 300], "nice": false, "zero": false}, "axis": null}
      }
    },
    {
      "data": {"values": [
        {"t": -5.45, "g": 0, "label": "Typical noise level"},
        {"t": 65.0, "g": 151, "label": "1 DIV = 0.5 hPa/h"},
        {"t": 67.7, "g": 150, "label": "average = -0.4482"}
      ]},
      "mark": {"type": "text", "angle": 270, "fontSize": 24, "align": "center", "baseline": "middle", "color": "black"},
      "encoding": {
        "x": {"field": "t", "type": "quantitative", "scale": {"domain": [-10, 70], "nice": false, "zero": false}, "axis": null},
        "y": {"field": "g", "type": "quantitative", "scale": {"domain": [-300, 300], "nice": false, "zero": false}, "axis": null},
        "text": {"field": "label"}
      }
    },
    {
      "data": {"values": [{"t": -8.27, "g": -289, "label": "The latest 1-hour, 1-second sampling"}]},
      "mark": {"type": "text", "fontSize": 28, "fontWeight": "bold", "align": "left", "baseline": "alphabetic", "color": "black"},
      "encoding": {
        "x": {"field": "t", "type": "quantitative", "scale": {"domain": [-10, 70], "nice": false, "zero": false}, "axis": null},
        "y": {"field": "g", "type": "quantitative", "scale": {"domain": [-300, 300], "nice": false, "zero": false}, "axis": null},
        "text": {"field": "label"}
      }
    },
    {
      "data": {"values": [{"t": 68.09, "g": -289, "label": "End at 2026-07-21 14:00:59 UTC"}]},
      "mark": {"type": "text", "fontSize": 28, "fontWeight": "bold", "align": "right", "baseline": "alphabetic", "color": "black"},
      "encoding": {
        "x": {"field": "t", "type": "quantitative", "scale": {"domain": [-10, 70], "nice": false, "zero": false}, "axis": null},
        "y": {"field": "g", "type": "quantitative", "scale": {"domain": [-300, 300], "nice": false, "zero": false}, "axis": null},
        "text": {"field": "label"}
      }
    }
  ]
}
